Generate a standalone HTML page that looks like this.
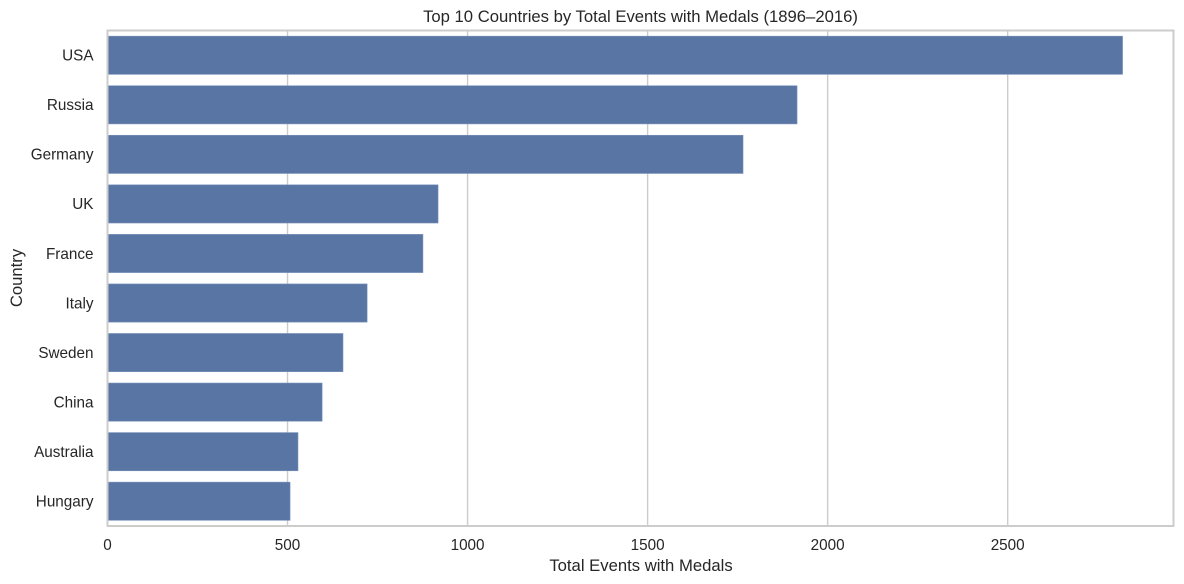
<!DOCTYPE html>
<html>
<head>
<meta charset="utf-8">
<style>
html,body{margin:0;padding:0;background:#fff;width:1184px;height:584px;overflow:hidden}
svg{display:block}
text{font-family:"Liberation Sans",Arial,sans-serif;fill:#262626}
</style>
</head>
<body>
<svg id="chart" xmlns="http://www.w3.org/2000/svg" width="1184" height="584" viewBox="0 0 1184 584"></svg>
<script>
const countries = ["USA","Russia","Germany","UK","France","Italy","Sweden","China","Australia","Hungary"];
const totalEvents = [2819,1915,1765,918,876,721,654,596,529,507];
const xTicks = [0,500,1000,1500,2000,2500];
const chartTitle = "Top 10 Countries by Total Events with Medals (1896–2016)";
const xAxisTitle = "Total Events with Medals";
const yAxisTitle = "Country";

const svgNS = "http://www.w3.org/2000/svg";
const svg = document.getElementById("chart");
const plotLeft = 107.5, plotRight = 1173.5, plotTop = 30.5, plotBottom = 526;
const xMax = 2960.5;
const xScale = v => plotLeft + v / xMax * (plotRight - plotLeft);
const bandHeight = (plotBottom - plotTop) / countries.length;
const yScale = i => plotTop + bandHeight * (i + 0.5);
const barHeight = 38.2;

function make(tag, attrs, text) {
  const el = document.createElementNS(svgNS, tag);
  for (const k in attrs) el.setAttribute(k, attrs[k]);
  if (text !== undefined) el.textContent = text;
  svg.appendChild(el);
  return el;
}

xTicks.forEach(t => {
  const grid = make("line", {x1:xScale(t), x2:xScale(t), y1:plotTop, y2:plotBottom, stroke:"#cccccc", "stroke-width":1.4});
  
  
});

countries.forEach((c, i) => {
  const bar = make("rect", {x:plotLeft, y:yScale(i)-barHeight/2, width:xScale(totalEvents[i])-plotLeft, height:barHeight, fill:"#5975a4", stroke:"#7a93bb", "stroke-width":0.6});
  
  
  const label = make("text", {x:93.5, y:yScale(i)+5.3, "text-anchor":"end", "font-size":"15.28"}, c);
  
  
});

const frame = make("rect", {x:plotLeft, y:plotTop, width:plotRight-plotLeft, height:plotBottom-plotTop, fill:"none", stroke:"#cccccc", "stroke-width":2});



xTicks.forEach(t => {
  const label = make("text", {x:xScale(t), y:550, "text-anchor":"middle", "font-size":"15.28"}, t);
  
  
});

const title = make("text", {x:640.5, y:22, "text-anchor":"middle", "font-size":"16.67"}, chartTitle);


const xTitle = make("text", {x:641, y:571, "text-anchor":"middle", "font-size":"16.67"}, xAxisTitle);


const yTitle = make("text", {x:0, y:0, "text-anchor":"middle", "font-size":"16.67", transform:"translate(22 278) rotate(-90)"}, yAxisTitle);


</script>
</body>
</html>
